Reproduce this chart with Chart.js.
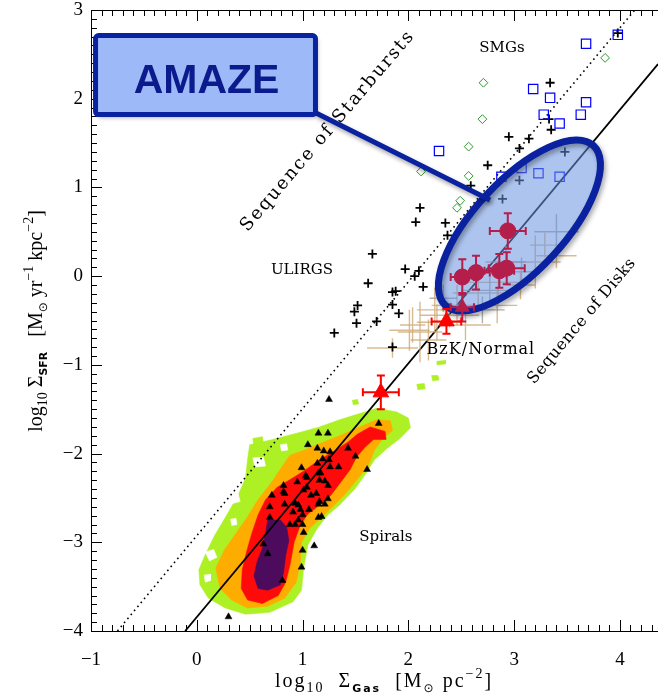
<!DOCTYPE html>
<html>
<head>
<meta charset="utf-8">
<script src="https://cdn.jsdelivr.net/npm/chart.js@4.4.1/dist/chart.umd.min.js"></script>
<style>
  html, body { margin: 0; padding: 0; background: #fff; }
  #wrap { width: 658px; height: 693px; }
</style>
</head>
<body>
<div id="wrap"><canvas id="ks" width="658" height="693"></canvas></div>
<script>
// ---------- data (log10 Sigma_gas, log10 Sigma_SFR) ----------
const xTickValues = [-1, 0, 1, 2, 3, 4];
const yTickValues = [-4, -3, -2, -1, 0, 1, 2, 3];

// sequence end points
const disksX = [-0.11, 4.36];
const disksY = [-4.0, 2.39];
const starburstX = [-0.75, 4.14];
const starburstY = [-4.0, 3.0];

// ULIRGs
const ulirgX = [3.98, 3.34, 3.33, 3.35, 2.95, 3.14, 3.05, 3.48, 2.75, 2.59, 3.05, 2.89, 2.11, 2.35, 2.37, 2.07, 2.14, 1.66, 1.97, 2.10, 2.06, 1.62, 1.85, 1.88, 1.52, 1.85, 1.49, 1.91, 1.51, 1.70, 1.30, 1.85];
const ulirgY = [2.74, 2.18, 1.77, 1.65, 1.57, 1.55, 1.44, 1.40, 1.25, 1.02, 1.08, 0.87, 0.77, 0.60, 0.46, 0.61, -0.12, 0.25, 0.08, 0.06, 0.00, -0.08, -0.18, -0.17, -0.33, -0.32, -0.40, -0.42, -0.53, -0.51, -0.64, -0.80];

// SMGs
const smgX = [3.98, 3.68, 3.18, 3.34, 3.68, 3.28, 3.63, 3.43, 2.29, 3.07, 3.23, 3.43, 2.88];
const smgY = [2.72, 2.62, 2.11, 2.01, 1.96, 1.82, 1.82, 1.72, 1.41, 1.22, 1.16, 1.12, 1.12];

// high-z starbursts (open diamonds)
const diamondX = [3.86, 2.71, 2.70, 2.57, 2.12, 2.57, 2.49, 2.46];
const diamondY = [2.46, 2.18, 1.77, 1.46, 1.18, 1.13, 0.85, 0.77];

// local spirals
const spiralX = [1.25, 1.72, 1.15, 1.24, 1.05, 1.14, 1.20, 1.26, 1.43, 1.50, 1.19, 1.25, 1.14, 0.99, 1.26, 1.34, 1.61, 1.15, 1.17, 1.04,
                 0.95, 1.16, 1.21, 1.24, 0.82, 1.01, 1.08, 1.13, 0.71, 0.83, 1.16, 1.24, 0.69, 0.83, 0.93, 0.98, 1.06, 1.15, 1.21, 1.00,
                 1.15, 1.18, 0.69, 0.96, 0.88, 0.93, 1.00, 1.01, 0.63, 1.11, 1.00, 0.67, 0.99, 0.81, 0.30, 1.03, 1.04, 0.91, 0.96, 0.82];
const spiralY = [-1.39, -1.66, -1.77, -1.77, -1.90, -1.94, -1.97, -1.98, -1.94, -2.03, -2.06, -2.07, -2.11, -2.16, -2.15, -2.15, -2.18, -2.22, -2.22, -2.27,
                 -2.32, -2.30, -2.31, -2.36, -2.36, -2.41, -2.47, -2.45, -2.47, -2.45, -2.54, -2.51, -2.60, -2.57, -2.56, -2.63, -2.63, -2.57, -2.57, -2.69,
                 -2.72, -2.71, -2.72, -2.75, -2.80, -2.80, -2.80, -2.89, -3.02, -3.04, -3.09, -3.13, -3.28, -3.43, -3.84, -2.25, -2.38, -2.66, -2.58, -2.43];

// BzK / normal z~1.5-2 galaxies (error crosses only)
const bzkX    = [3.40, 3.20, 3.40, 3.07, 2.85, 3.06, 2.77, 2.66, 2.84, 2.70, 2.46, 2.39, 2.27, 2.33, 2.25, 2.04, 2.11, 2.01, 1.85, 2.19, 2.54, 2.92, 3.29];
const bzkY    = [0.50, 0.16, 0.23, 0.05, -0.07, -0.10, -0.16, -0.19, -0.33, -0.38, -0.33, -0.44, -0.52, -0.25, -0.38, -0.55, -0.63, -0.61, -0.81, -0.72, -0.55, 0.16, 0.35];
const bzkXErr = [0.21, 0.24, 0.19, 0.15, 0.28, 0.14, 0.27, 0.24, 0.19, 0.21, 0.24, 0.28, 0.19, 0.13, 0.17, 0.12, 0.21, 0.19, 0.24, 0.17, 0.24, 0.19, 0.14];
const bzkYErr = [0.20, 0.30, 0.14, 0.16, 0.25, 0.16, 0.17, 0.14, 0.20, 0.15, 0.23, 0.14, 0.20, 0.15, 0.25, 0.20, 0.34, 0.23, 0.11, 0.23, 0.17, 0.18, 0.14];

// AMAZE galaxies
const amazeX    = [2.94, 2.51, 2.64, 2.86, 2.93];
const amazeY    = [0.51, -0.01, 0.04, 0.06, 0.09];
const amazeXErr = [0.17, 0.11, 0.13, 0.14, 0.17];
const amazeYErr = [0.20, 0.20, 0.19, 0.19, 0.18];
const amazeTriX = [2.51];
const amazeTriY = [-0.35];
const amazeTriXErr = [0.11];
const amazeTriYErr = [0.16];

// stacked averages (red triangles)
const stackX    = [1.74, 2.36];
const stackY    = [-1.31, -0.51];
const stackXErr = [0.17, 0.14];
const stackYErr = [0.19, 0.14];

// spiral density contours, outer to inner level
const contourGreen = [[0.50,-1.90],[0.69,-1.85],[0.98,-1.76],[1.16,-1.70],[1.35,-1.62],[1.51,-1.56],[1.70,-1.49],[1.89,-1.53],[2.00,-1.60],[2.02,-1.71],
  [1.92,-1.83],[1.80,-1.94],[1.68,-2.07],[1.59,-2.24],[1.50,-2.39],[1.35,-2.58],[1.24,-2.69],[1.14,-2.84],[1.05,-3.03],[1.01,-3.29],
  [0.99,-3.54],[0.91,-3.67],[0.69,-3.79],[0.46,-3.81],[0.27,-3.74],[0.11,-3.63],[0.03,-3.48],[0.02,-3.31],[0.08,-3.14],[0.17,-2.92],
  [0.30,-2.66],[0.39,-2.47],[0.46,-2.28],[0.48,-2.07]];
const contourOrange = [[0.88,-2.02],[1.02,-1.96],[1.16,-1.89],[1.35,-1.80],[1.54,-1.70],[1.70,-1.62],[1.83,-1.63],[1.85,-1.74],[1.76,-1.83],[1.68,-1.96],
  [1.62,-2.14],[1.51,-2.30],[1.40,-2.46],[1.29,-2.59],[1.18,-2.72],[1.07,-2.84],[0.99,-3.00],[0.98,-3.22],[0.94,-3.45],[0.83,-3.63],
  [0.67,-3.72],[0.48,-3.74],[0.33,-3.65],[0.22,-3.52],[0.18,-3.29],[0.26,-3.09],[0.37,-2.90],[0.47,-2.73],[0.58,-2.52],[0.71,-2.32],[0.81,-2.14]];
const contourRed = [[1.64,-1.70],[1.78,-1.75],[1.79,-1.84],[1.67,-1.84],[1.59,-1.93],[1.51,-2.04],[1.45,-2.18],[1.35,-2.34],[1.26,-2.48],[1.15,-2.59],
  [1.05,-2.68],[0.98,-2.80],[0.92,-3.00],[0.88,-3.26],[0.84,-3.45],[0.77,-3.60],[0.62,-3.69],[0.48,-3.65],[0.42,-3.52],[0.43,-3.31],
  [0.47,-3.11],[0.52,-2.90],[0.58,-2.69],[0.65,-2.52],[0.76,-2.38],[0.90,-2.28],[1.02,-2.19],[1.16,-2.07],[1.29,-1.98],[1.43,-1.87],[1.52,-1.78]];
const contourPurple = [[0.67,-2.75],[0.79,-2.75],[0.85,-2.83],[0.87,-2.98],[0.84,-3.15],[0.82,-3.34],[0.79,-3.48],[0.67,-3.54],[0.58,-3.52],[0.54,-3.38],
  [0.57,-3.22],[0.62,-3.07],[0.65,-2.90]];
const greenIslands = [
  [[0.53,-1.83],[0.62,-1.81],[0.63,-1.90],[0.54,-1.92]],
  [[2.08,-1.22],[2.15,-1.21],[2.16,-1.27],[2.09,-1.28]],
  [[2.22,-1.12],[2.28,-1.12],[2.29,-1.17],[2.23,-1.18]],
  [[1.47,-1.40],[1.52,-1.39],[1.53,-1.44],[1.48,-1.45]],
  [[2.27,-0.96],[2.35,-0.95],[2.35,-0.99],[2.27,-1.00]]
];
const greenHoles = [
  [[0.08,-3.11],[0.16,-3.08],[0.19,-3.17],[0.12,-3.21]],
  [[0.30,-2.46],[0.39,-2.45],[0.41,-2.54],[0.31,-2.57]],
  [[0.53,-2.05],[0.63,-2.04],[0.65,-2.14],[0.55,-2.15]],
  [[0.07,-3.37],[0.13,-3.36],[0.13,-3.43],[0.08,-3.45]],
  [[0.32,-2.74],[0.37,-2.73],[0.38,-2.80],[0.33,-2.81]],
  [[0.79,-1.90],[0.85,-1.89],[0.86,-1.96],[0.80,-1.97]]
];

// ---------- styles ----------
const INK = '#000000';
const SERIF = '"Liberation Serif", "DejaVu Serif", serif';
const LABEL_SERIF = '"DejaVu Serif", serif';
const AMAZE_BLUE = '#0a22a0';
const CRIMSON = '#b41e4b';
const bzkGreyIdx = [0, 3, 6, 9, 13, 21];

const pts = (xs, ys) => xs.map((x, i) => ({ x, y: ys[i] }));
const poly = arr => arr.concat([arr[0]]).map(p => ({ x: p[0], y: p[1] }));

// draw order: first entry is the bottom layer
const layers = [];
function shape(arr, color) {
  layers.push({ type: 'line', data: poly(arr), fill: 'shape', backgroundColor: color,
    borderColor: color, borderWidth: 0.6, pointRadius: 0, tension: 0 });
}
shape(contourGreen, '#adf023');
greenIslands.forEach(s => shape(s, '#adf023'));
greenHoles.forEach(s => shape(s, '#ffffff'));
shape(contourOrange, '#ffac00');
shape(contourRed, '#ff0a0a');
shape(contourPurple, '#4c0b5c');

layers.push({ type: 'line', data: pts(starburstX, starburstY), borderColor: INK, borderWidth: 1.6,
  borderDash: [1.6, 3.6], pointRadius: 0, fill: false });
layers.push({ type: 'line', data: pts(disksX, disksY), borderColor: INK, borderWidth: 1.8,
  pointRadius: 0, fill: false });
layers.push({ data: pts(spiralX, spiralY), pointStyle: 'triangle', pointRadius: 4,
  backgroundColor: INK, borderColor: INK, borderWidth: 0.5 });
layers.push({ data: pts(bzkX, bzkY), pointRadius: 0, errX: bzkXErr, errY: bzkYErr, errWidth: 1.4,
  errColors: bzkX.map((_, i) => bzkGreyIdx.includes(i) ? 'rgba(150,150,150,0.75)' : 'rgba(205,170,120,0.8)') });
layers.push({ data: pts(ulirgX, ulirgY), pointStyle: 'cross', pointRadius: 4.5,
  borderColor: INK, borderWidth: 1.8 });
layers.push({ data: pts(smgX, smgY), pointStyle: 'rect', pointRadius: 6.6,
  backgroundColor: 'rgba(0,0,0,0)', borderColor: '#0000ff', borderWidth: 1.2 });
layers.push({ data: pts(diamondX, diamondY), pointStyle: 'rectRot', pointRadius: 4.4,
  backgroundColor: 'rgba(0,0,0,0)', borderColor: '#2a9a2a', borderWidth: 1, ellipseAfter: true });
layers.push({ data: pts(amazeTriX, amazeTriY), pointStyle: 'triangle', pointRadius: 8,
  backgroundColor: CRIMSON, borderColor: CRIMSON, borderWidth: 1,
  errX: amazeTriXErr, errY: amazeTriYErr, errWidth: 2, errColor: CRIMSON, cap: 4 });
layers.push({ data: pts(amazeX, amazeY), pointStyle: 'circle', pointRadius: 8,
  backgroundColor: CRIMSON, borderColor: CRIMSON, borderWidth: 1,
  errX: amazeXErr, errY: amazeYErr, errWidth: 2, errColor: CRIMSON, cap: 4 });
layers.push({ data: pts(stackX, stackY), pointStyle: 'triangle', pointRadius: 9,
  backgroundColor: '#ff0000', borderColor: '#ff0000', borderWidth: 1,
  errX: stackXErr, errY: stackYErr, errWidth: 2, errColor: '#ff0000', cap: 4 });
layers.forEach((d, i) => { d.order = 1000 - i; });

// callout geometry (data coordinates) and text labels
const ellipseGeom = { center: [3.05, 0.571], tip: [3.75, 1.471], minorPx: 45, lineWidth: 7 };
const boxGeom = { x0: -0.957, x1: 1.122, y0: 1.822, y1: 2.712, lineWidth: 5 };
const connector = { from: [1.127, 1.838], to: [2.772, 0.858], lineWidth: 5 };
const textLabels = [
  { t: 'SMGs', x: 2.885, y: 2.571, size: 15 },
  { t: 'ULIRGS', x: 0.994, y: 0.069, size: 15 },
  { t: 'BzK/Normal', x: 2.686, y: -0.833, size: 16, spacing: 1 },
  { t: 'Spirals', x: 1.788, y: -2.941, size: 15 },
  { t: 'Sequence of Starbursts', x: 1.240, y: 1.636, size: 18, spacing: 2, rot: -49.5 },
  { t: 'Sequence of Disks', x: 3.641, y: -0.508, size: 16, spacing: 0.6, rot: -50 }
];

// ---------- drawing helpers ----------
function drawErrors(chart, ds) {
  const { ctx } = chart, xs = chart.scales.x, ys = chart.scales.y;
  ctx.save();
  ctx.lineWidth = ds.errWidth;
  ds.data.forEach((p, i) => {
    ctx.strokeStyle = ds.errColors ? ds.errColors[i] : ds.errColor;
    const cx = xs.getPixelForValue(p.x), cy = ys.getPixelForValue(p.y);
    const x0 = xs.getPixelForValue(p.x - ds.errX[i]), x1 = xs.getPixelForValue(p.x + ds.errX[i]);
    const y0 = ys.getPixelForValue(p.y - ds.errY[i]), y1 = ys.getPixelForValue(p.y + ds.errY[i]);
    ctx.beginPath();
    ctx.moveTo(x0, cy); ctx.lineTo(x1, cy);
    ctx.moveTo(cx, y0); ctx.lineTo(cx, y1);
    if (ds.cap) {
      const c = ds.cap;
      ctx.moveTo(x0, cy - c); ctx.lineTo(x0, cy + c);
      ctx.moveTo(x1, cy - c); ctx.lineTo(x1, cy + c);
      ctx.moveTo(cx - c, y0); ctx.lineTo(cx + c, y0);
      ctx.moveTo(cx - c, y1); ctx.lineTo(cx + c, y1);
    }
    ctx.stroke();
  });
  ctx.restore();
}

function drawEllipse(chart) {
  const { ctx } = chart, xs = chart.scales.x, ys = chart.scales.y, g = ellipseGeom;
  const cx = xs.getPixelForValue(g.center[0]), cy = ys.getPixelForValue(g.center[1]);
  const tx = xs.getPixelForValue(g.tip[0]), ty = ys.getPixelForValue(g.tip[1]);
  const a = Math.hypot(tx - cx, ty - cy), ang = Math.atan2(ty - cy, tx - cx);
  ctx.save();
  ctx.beginPath();
  ctx.ellipse(cx, cy, a, g.minorPx, ang, 0, Math.PI * 2);
  ctx.fillStyle = 'rgba(105,148,226,0.55)';
  ctx.fill();
  ctx.shadowColor = 'rgba(0,0,0,0.35)';
  ctx.shadowBlur = 5; ctx.shadowOffsetX = 2; ctx.shadowOffsetY = 3;
  ctx.lineWidth = g.lineWidth;
  ctx.strokeStyle = AMAZE_BLUE;
  ctx.stroke();
  ctx.restore();
}

function drawFrameTicks(chart) {
  const { ctx, chartArea: a } = chart, xs = chart.scales.x, ys = chart.scales.y;
  ctx.save();
  ctx.strokeStyle = INK; ctx.lineWidth = 1;
  ctx.beginPath();
  ctx.moveTo(a.left, a.top + 0.5); ctx.lineTo(a.right, a.top + 0.5);
  for (let k = -10; k <= 43; k++) {
    const p = Math.round(xs.getPixelForValue(k / 10)) + 0.5, len = k % 10 === 0 ? 11 : 6;
    ctx.moveTo(p, a.bottom); ctx.lineTo(p, a.bottom - len);
    ctx.moveTo(p, a.top); ctx.lineTo(p, a.top + len);
  }
  for (let k = -40; k <= 30; k++) {
    const p = Math.round(ys.getPixelForValue(k / 10)) + 0.5, len = k % 10 === 0 ? 11 : 6;
    ctx.moveTo(a.left, p); ctx.lineTo(a.left + len, p);
  }
  ctx.stroke();
  ctx.restore();
}

function drawTextLabels(chart) {
  const { ctx } = chart, xs = chart.scales.x, ys = chart.scales.y;
  textLabels.forEach(l => {
    ctx.save();
    ctx.translate(xs.getPixelForValue(l.x), ys.getPixelForValue(l.y));
    if (l.rot) ctx.rotate(l.rot * Math.PI / 180);
    ctx.font = `${l.size}px ${LABEL_SERIF}`;
    ctx.letterSpacing = (l.spacing || 0) + 'px';
    ctx.fillStyle = INK; ctx.textAlign = 'center'; ctx.textBaseline = 'middle';
    ctx.fillText(l.t, 0, 0);
    ctx.restore();
  });
}

function drawCallout(chart) {
  const { ctx } = chart, xs = chart.scales.x, ys = chart.scales.y;
  ctx.save();
  ctx.shadowColor = 'rgba(0,0,0,0.35)';
  ctx.shadowBlur = 4; ctx.shadowOffsetX = 2; ctx.shadowOffsetY = 3;
  ctx.strokeStyle = AMAZE_BLUE;
  ctx.lineWidth = connector.lineWidth;
  ctx.beginPath();
  ctx.moveTo(xs.getPixelForValue(connector.from[0]), ys.getPixelForValue(connector.from[1]));
  ctx.lineTo(xs.getPixelForValue(connector.to[0]), ys.getPixelForValue(connector.to[1]));
  ctx.stroke();
  const bx0 = xs.getPixelForValue(boxGeom.x0), bx1 = xs.getPixelForValue(boxGeom.x1);
  const by0 = ys.getPixelForValue(boxGeom.y1), by1 = ys.getPixelForValue(boxGeom.y0);
  ctx.beginPath();
  ctx.roundRect(bx0, by0, bx1 - bx0, by1 - by0, 3);
  ctx.fillStyle = '#9db9f7';
  ctx.fill();
  ctx.shadowColor = 'rgba(0,0,0,0)';
  ctx.lineWidth = boxGeom.lineWidth;
  ctx.stroke();
  ctx.font = 'bold 41px "Liberation Sans", Arial, sans-serif';
  ctx.fillStyle = '#0b1a8c';
  ctx.textAlign = 'center'; ctx.textBaseline = 'alphabetic';
  ctx.fillText('AMAZE', (bx0 + bx1) / 2 + 1, by1 - 22);
  ctx.restore();
}

function richWidth(ctx, parts, sp) {
  let w = 0;
  parts.forEach(p => { ctx.font = p.f; w += ctx.measureText(p.t).width + sp * p.t.length; });
  return w;
}
function drawRich(ctx, parts, x, y, sp) {
  ctx.letterSpacing = sp + 'px';
  let cx = x - richWidth(ctx, parts, 0) / 2;
  parts.forEach(p => {
    ctx.font = p.f;
    ctx.fillText(p.t, cx, y + (p.dy || 0));
    cx += ctx.measureText(p.t).width;
  });
}
const big = `20px ${SERIF}`, small = `14px ${SERIF}`, subSans = 'bold 11px "DejaVu Sans", sans-serif', sun = '12px "DejaVu Sans", sans-serif';
const xTitleParts = [
  { t: 'log', f: big }, { t: '10', f: small, dy: 5 }, { t: '  Σ', f: big }, { t: 'Gas', f: subSans, dy: 5 },
  { t: '  [M', f: big }, { t: '⊙', f: sun, dy: 5 }, { t: ' pc', f: big }, { t: '−2', f: small, dy: -9 }, { t: ']', f: big }
];
const yTitleParts = [
  { t: 'log', f: big }, { t: '10', f: small, dy: 5 }, { t: ' Σ', f: big }, { t: 'SFR', f: subSans, dy: 5 },
  { t: '   [M', f: big }, { t: '⊙', f: sun, dy: 5 }, { t: ' yr', f: big }, { t: '−1', f: small, dy: -9 },
  { t: ' kpc', f: big }, { t: '−2', f: small, dy: -9 }, { t: ']', f: big }
];
function drawAxisTitles(chart) {
  const { ctx } = chart;
  ctx.save();
  ctx.fillStyle = INK; ctx.textAlign = 'left'; ctx.textBaseline = 'alphabetic';
  drawRich(ctx, xTitleParts, 384, 687, 2);
  ctx.translate(42, 321);
  ctx.rotate(-Math.PI / 2);
  drawRich(ctx, yTitleParts, 0, 0, 0);
  ctx.restore();
}

const decorPlugin = {
  id: 'decor',
  beforeDatasetDraw(chart, args) {
    const ds = chart.data.datasets[args.index];
    if (ds.errX) drawErrors(chart, ds);
  },
  afterDatasetDraw(chart, args) {
    const ds = chart.data.datasets[args.index];
    if (ds.ellipseAfter) drawEllipse(chart);
  },
  afterDatasetsDraw(chart) {
    drawFrameTicks(chart);
    drawTextLabels(chart);
    drawCallout(chart);
  },
  afterDraw(chart) {
    drawAxisTitles(chart);
  }
};

const minus = v => String(v).replace('-', '−');

new Chart(document.getElementById('ks'), {
  type: 'scatter',
  data: { datasets: layers },
  plugins: [decorPlugin],
  options: {
    responsive: false,
    animation: false,
    events: [],
    devicePixelRatio: 1,
    layout: { padding: 0, autoPadding: false },
    plugins: { legend: { display: false }, tooltip: { enabled: false } },
    scales: {
      x: {
        type: 'linear', min: -1, max: 4.36,
        afterBuildTicks: s => { s.ticks = xTickValues.map(v => ({ value: v })); },
        afterFit: s => { s.height = 62; s.paddingLeft = 0; s.paddingRight = 0; },
        grid: { display: false, drawTicks: false },
        border: { display: true, color: INK, width: 1 },
        ticks: { callback: minus, font: { family: SERIF, size: 19 }, color: INK, padding: 18,
                 autoSkip: false, maxRotation: 0, includeBounds: false }
      },
      y: {
        type: 'linear', min: -4, max: 3,
        afterBuildTicks: s => { s.ticks = yTickValues.map(v => ({ value: v })); },
        afterFit: s => { s.width = 91; s.paddingTop = 10; s.paddingBottom = 0; },
        grid: { display: false, drawTicks: false },
        border: { display: true, color: INK, width: 1 },
        ticks: { callback: minus, font: { family: SERIF, size: 19 }, color: INK, padding: 8,
                 autoSkip: false, includeBounds: false }
      }
    }
  }
});
</script>
</body>
</html>
